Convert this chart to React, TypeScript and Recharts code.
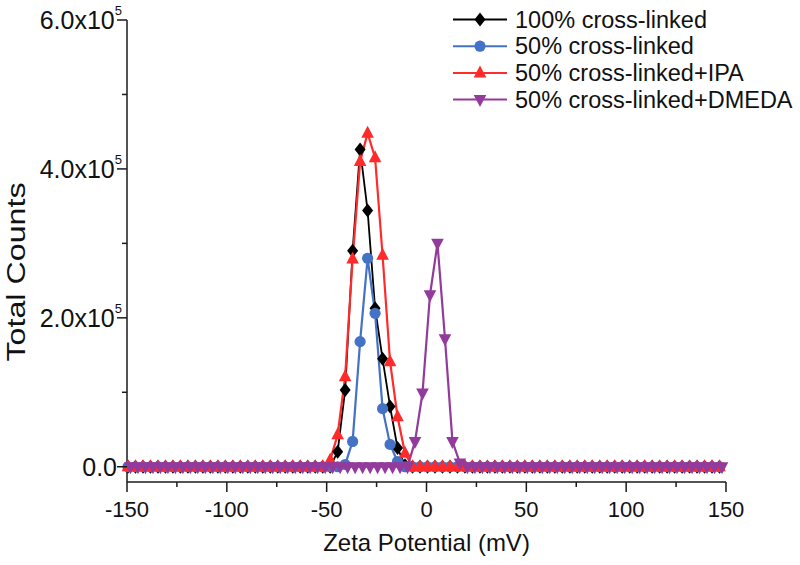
import React from 'react';
import { LineChart, Line, XAxis, YAxis, Legend } from 'recharts';

const FONT = '"Liberation Sans", Arial, Helvetica, sans-serif';
const INK = '#1a1a1a';

// zeta potential bins (mV)
const zeta = [
  -149.5, -145.75, -142, -138.25, -134.5, -130.75, -127, -123.25, -119.5, -115.75,
  -112, -108.25, -104.5, -100.75, -97, -93.25, -89.5, -85.75, -82, -78.25,
  -74.5, -70.75, -67, -63.25, -59.5, -55.75, -52, -48.25, -44.5, -40.75,
  -37, -33.25, -29.5, -25.75, -22, -18.25, -14.5, -10.75, -7, -3.25,
  0.5, 4.25, 8, 11.75, 15.5, 19.25, 23, 26.75, 30.5, 34.25,
  38, 41.75, 45.5, 49.25, 53, 56.75, 60.5, 64.25, 68, 71.75,
  75.5, 79.25, 83, 86.75, 90.5, 94.25, 98, 101.75, 105.5, 109.25,
  113, 116.75, 120.5, 124.25, 128, 131.75, 135.5, 139.25, 143, 146.75,
];

// the DMEDA sample was read on a slightly shifted grid
const zetaDmeda = [
  -148.25, -144.5, -140.75, -137, -133.25, -129.5, -125.75, -122, -118.25, -114.5,
  -110.75, -107, -103.25, -99.5, -95.75, -92, -88.25, -84.5, -80.75, -77,
  -73.25, -69.5, -65.75, -62, -58.25, -54.5, -50.75, -47, -43.25, -39.5,
  -35.75, -32, -28.25, -24.5, -20.75, -17, -13.25, -9.5, -5.75, -2,
  1.75, 5.5, 9.25, 13, 16.75, 20.5, 24.25, 28, 31.75, 35.5,
  39.25, 43, 46.75, 50.5, 54.25, 58, 61.75, 65.5, 69.25, 73,
  76.75, 80.5, 84.25, 88, 91.75, 95.5, 99.25, 103, 106.75, 110.5,
  114.25, 118, 121.75, 125.5, 129.25, 133, 136.75, 140.5, 144.25, 148,
];

// total counts, in thousands
const counts100 = [
  0, 0, 0, 0, 0, 0, 0, 0, 0, 0,
  0, 0, 0, 0, 0, 0, 0, 0, 0, 0,
  0, 0, 0, 0, 0, 0, 0, 0, 20, 103,
  290, 426, 344, 213, 145, 81, 25, 2, 0, 0,
  0, 0, 0, 0, 0, 0, 0, 0, 0, 0,
  0, 0, 0, 0, 0, 0, 0, 0, 0, 0,
  0, 0, 0, 0, 0, 0, 0, 0, 0, 0,
  0, 0, 0, 0, 0, 0, 0, 0, 0, 0,
];
const counts50 = [
  0, 0, 0, 0, 0, 0, 0, 0, 0, 0,
  0, 0, 0, 0, 0, 0, 0, 0, 0, 0,
  0, 0, 0, 0, 0, 0, 0, 0, 0, 3,
  34, 168, 280, 206, 78, 30, 7, 0, 0, 0,
  0, 0, 0, 0, 0, 0, 0, 0, 0, 0,
  0, 0, 0, 0, 0, 0, 0, 0, 0, 0,
  0, 0, 0, 0, 0, 0, 0, 0, 0, 0,
  0, 0, 0, 0, 0, 0, 0, 0, 0, 0,
];
const countsIpa = [
  0, 0, 0, 0, 0, 0, 0, 0, 0, 0,
  0, 0, 0, 0, 0, 0, 0, 0, 0, 0,
  0, 0, 0, 0, 0, 0, 0, 9, 43, 121,
  279, 410, 448, 415, 284, 141, 67, 18, 0, 0,
  0, 0, 0, 0, 0, 0, 0, 0, 0, 0,
  0, 0, 0, 0, 0, 0, 0, 0, 0, 0,
  0, 0, 0, 0, 0, 0, 0, 0, 0, 0,
  0, 0, 0, 0, 0, 0, 0, 0, 0, 0,
];
const countsDmeda = [
  0, 0, 0, 0, 0, 0, 0, 0, 0, 0,
  0, 0, 0, 0, 0, 0, 0, 0, 0, 0,
  0, 0, 0, 0, 0, 0, 0, 0, 0, 0,
  0, 0, 0, 0, 0, 0, 0, 0, 34, 99,
  231, 300, 172, 34, 5, 0, 0, 0, 0, 0,
  0, 0, 0, 0, 0, 0, 0, 0, 0, 0,
  0, 0, 0, 0, 0, 0, 0, 0, 0, 0,
  0, 0, 0, 0, 0, 0, 0, 0, 0, 0,
];

const xTicks = [-150, -125, -100, -75, -50, -25, 0, 25, 50, 75, 100, 125, 150];
const yTicks = [0, 100000, 200000, 300000, 400000, 500000, 600000];

type Shape = 'diamond' | 'circle' | 'up' | 'down';

const series: { name: string; color: string; shape: Shape; xs: number[]; ys: number[] }[] = [
  { name: '100% cross-linked', color: '#000000', shape: 'diamond', xs: zeta, ys: counts100 },
  { name: '50% cross-linked', color: '#4472c4', shape: 'circle', xs: zeta, ys: counts50 },
  { name: '50% cross-linked+IPA', color: '#ff2a2a', shape: 'up', xs: zeta, ys: countsIpa },
  { name: '50% cross-linked+DMEDA', color: '#933b9c', shape: 'down', xs: zetaDmeda, ys: countsDmeda },
];

const Marker = ({ shape, cx, cy, color }: { shape: Shape; cx: number; cy: number; color: string }) => {
  if (cx == null || cy == null) return null;
  if (shape === 'diamond')
    return <polygon points={`${cx},${cy - 7} ${cx + 5.5},${cy} ${cx},${cy + 7} ${cx - 5.5},${cy}`} fill={color} />;
  if (shape === 'circle') return <circle cx={cx} cy={cy} r={5.6} fill={color} />;
  if (shape === 'up')
    return <polygon points={`${cx},${cy - 7.5} ${cx + 6.3},${cy + 4.5} ${cx - 6.3},${cy + 4.5}`} fill={color} />;
  return <polygon points={`${cx},${cy + 7.5} ${cx + 6.3},${cy - 4.5} ${cx - 6.3},${cy - 4.5}`} fill={color} />;
};

const XTick = (props: any) => {
  const { x, y, payload } = props;
  const v = payload.value;
  const major = v % 50 === 0;
  return (
    <g>
      <line x1={x} x2={x} y1={y} y2={y + (major ? 10 : 5)} stroke={INK} strokeWidth={1.5} />
      {major && (
        <text x={x} y={y + 35} textAnchor="middle" fontSize={22} fontFamily={FONT} fill="#111">
          {v}
        </text>
      )}
    </g>
  );
};

const YTick = (props: any) => {
  const { x, y, payload } = props;
  const v = payload.value;
  const major = v % 200000 === 0;
  return (
    <g>
      <line x1={x} x2={x - (major ? 10 : 5)} y1={y} y2={y} stroke={INK} strokeWidth={1.5} />
      {major &&
        (v === 0 ? (
          <text x={x - 10} y={y + 9} textAnchor="end" fontSize={25} fontFamily={FONT} fill="#111">
            0.0
          </text>
        ) : (
          <text x={x - 5} y={y + 9} textAnchor="end" fontSize={25} fontFamily={FONT} fill="#111">
            {(v / 100000).toFixed(1)}x10
            <tspan fontSize={13} dy={-14}>5</tspan>
          </text>
        ))}
    </g>
  );
};

const LegendBox = () => (
  <svg width={360} height={120} style={{ display: 'block' }}>
    {series.map((s, i) => {
      const cy = 19.5 + i * 26.7;
      return (
        <g key={s.name}>
          <line x1={13} x2={67} y1={cy} y2={cy} stroke={s.color} strokeWidth={2} />
          <Marker shape={s.shape} cx={40} cy={cy} color={s.color} />
          <text x={75} y={cy + 8} fontSize={23.5} fontFamily={FONT} fill="#111">
            {s.name}
          </text>
        </g>
      );
    })}
  </svg>
);

export default function App() {
  return (
    <div style={{ position: 'absolute', left: 0, top: 0, width: 800, height: 565, background: '#fff' }}>
      <LineChart width={800} height={565} margin={{ top: 20, right: 74, bottom: 0, left: 0 }}>
        <XAxis
          type="number"
          dataKey="x"
          domain={[-150, 150]}
          ticks={xTicks}
          interval={0}
          tickSize={0}
          tickMargin={0}
          tickLine={false}
          tick={<XTick />}
          axisLine={{ stroke: INK, strokeWidth: 1.5 }}
          height={83}
          label={(p: any) => {
            const vb = p.viewBox || { x: 127, y: 482, width: 599 };
            return (
              <text x={vb.x + vb.width / 2} y={vb.y + 69} textAnchor="middle" fontSize={24} fontFamily={FONT} fill="#111">
                Zeta Potential (mV)
              </text>
            );
          }}
        />
        <YAxis
          type="number"
          domain={[-20500, 600000]}
          ticks={yTicks}
          interval={0}
          tickSize={0}
          tickMargin={0}
          tickLine={false}
          tick={<YTick />}
          axisLine={{ stroke: INK, strokeWidth: 1.5 }}
          width={127}
          label={(p: any) => {
            const vb = p.viewBox || { x: 0, y: 20, height: 462 };
            return (
              <text
                transform={`translate(${vb.x + 25},${vb.y + 252}) scale(1,1.29) rotate(-90)`}
                textAnchor="middle"
                fontSize={25}
                fontFamily={FONT}
                fill="#111"
              >
                Total Counts
              </text>
            );
          }}
        />
        {series.map((s) => (
          <Line
            key={s.name}
            name={s.name}
            data={s.xs.map((x, i) => ({ x, y: s.ys[i] * 1000 }))}
            dataKey="y"
            type="linear"
            stroke={s.color}
            strokeWidth={s.shape === 'diamond' ? 1.8 : 2.2}
            dot={(p: any) => <Marker key={`${s.shape}-${p.index}`} shape={s.shape} cx={p.cx} cy={p.cy} color={s.color} />}
            activeDot={false}
            isAnimationActive={false}
          />
        ))}
        <Legend
          layout="vertical"
          align="center"
          verticalAlign="middle"
          wrapperStyle={{ position: 'absolute', left: 440, top: 0, width: 360, height: 120 }}
          content={() => <LegendBox />}
        />
      </LineChart>
    </div>
  );
}
